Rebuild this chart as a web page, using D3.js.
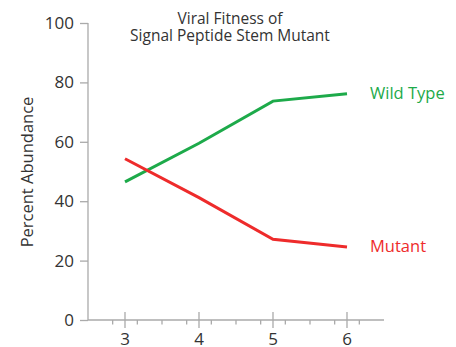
<!DOCTYPE html>
<html><head><meta charset="utf-8">
<script src="https://cdn.jsdelivr.net/npm/d3@7"></script>
<style>body{margin:0;background:#fff}svg{display:block;font-family:"Open Sans",Lato,sans-serif}</style>
</head><body>
<svg id="c" width="456" height="347"></svg>
<script>
const days = [3, 4, 5, 6];
const wildType = [46.5, 59.5, 73.7, 76.2];
const mutant = [54.3, 41.2, 27.2, 24.6];
const yTicks = [0, 20, 40, 60, 80, 100];
const xTicks = [3, 4, 5, 6];
const titleLines = ["Viral Fitness of", "Signal Peptide Stem Mutant"];
const seriesNames = ["Wild Type", "Mutant"];

const svg = d3.select("#c");
const x = d3.scaleLinear().domain([2.5, 6.5]).range([88, 384]);
const y = d3.scaleLinear().domain([0, 100]).range([320, 23]);
const axisCol = "#aaa", textCol = "#333";

// y axis
const ya = svg.append("g").attr("transform", "translate(88,0)")
  .call(d3.axisLeft(y).tickValues(yTicks).tickSize(8).tickPadding(6));
ya.select(".domain").attr("stroke", axisCol).attr("stroke-width", 1.3).attr("d", "M0,23V320");
ya.selectAll(".tick line").attr("stroke", axisCol).attr("stroke-width", 1.3);
ya.selectAll(".tick text").attr("fill", textCol).style("font-size", "17px").style("font-family", "Open Sans, sans-serif");

// x axis
const xa = svg.append("g").attr("transform", "translate(0,320)");
xa.append("line").attr("x1", 88).attr("x2", 384).attr("stroke", axisCol).attr("stroke-width", 1.3);
const minor = d3.range(1, 12).map(i => 2.5 + i / 3).filter(v => !xTicks.some(t => Math.abs(t - v) < 1e-6));
xa.selectAll(".mn").data(minor).join("line")
  .attr("x1", d => x(d)).attr("x2", d => x(d)).attr("y1", 0).attr("y2", 4.5)
  .attr("stroke", axisCol).attr("stroke-width", 1.3);
xa.selectAll(".mj").data(xTicks).join("line")
  .attr("x1", d => x(d)).attr("x2", d => x(d)).attr("y1", -8).attr("y2", 8)
  .attr("stroke", axisCol).attr("stroke-width", 1.3);
xa.selectAll(".lb").data(xTicks).join("text")
  .attr("x", d => x(d)).attr("y", 25).attr("text-anchor", "middle")
  .attr("fill", textCol).style("font-size", "17px").text(d => d);

// y label
svg.append("text").attr("transform", "translate(33,172) rotate(-90)")
  .attr("text-anchor", "middle").attr("fill", textCol).style("font-size", "16.5px")
  .text("Percent Abundance");

// title
svg.selectAll(".tt").data(titleLines).join("text")
  .attr("x", 230).attr("y", (d, i) => 23.5 + i * 17.5).attr("text-anchor", "middle")
  .attr("fill", textCol).style("font-size", "15.5px").text(d => d);

// lines
const line = d3.line().x((d, i) => x(days[i])).y(d => y(d));
const series = [wildType, mutant];
const colors = ["#1daa4a", "#ee2b2b"];
svg.selectAll(".ln").data(series).join("path")
  .attr("d", line).attr("fill", "none").attr("stroke", (d, i) => colors[i]).attr("stroke-width", 3);

// labels
svg.selectAll(".sl").data(seriesNames).join("text")
  .attr("x", 370).attr("y", (d, i) => y(series[i][3]) + 5.5)
  .attr("fill", (d, i) => colors[i]).style("font-size", "16.5px").text(d => d);
</script>
</body></html>
